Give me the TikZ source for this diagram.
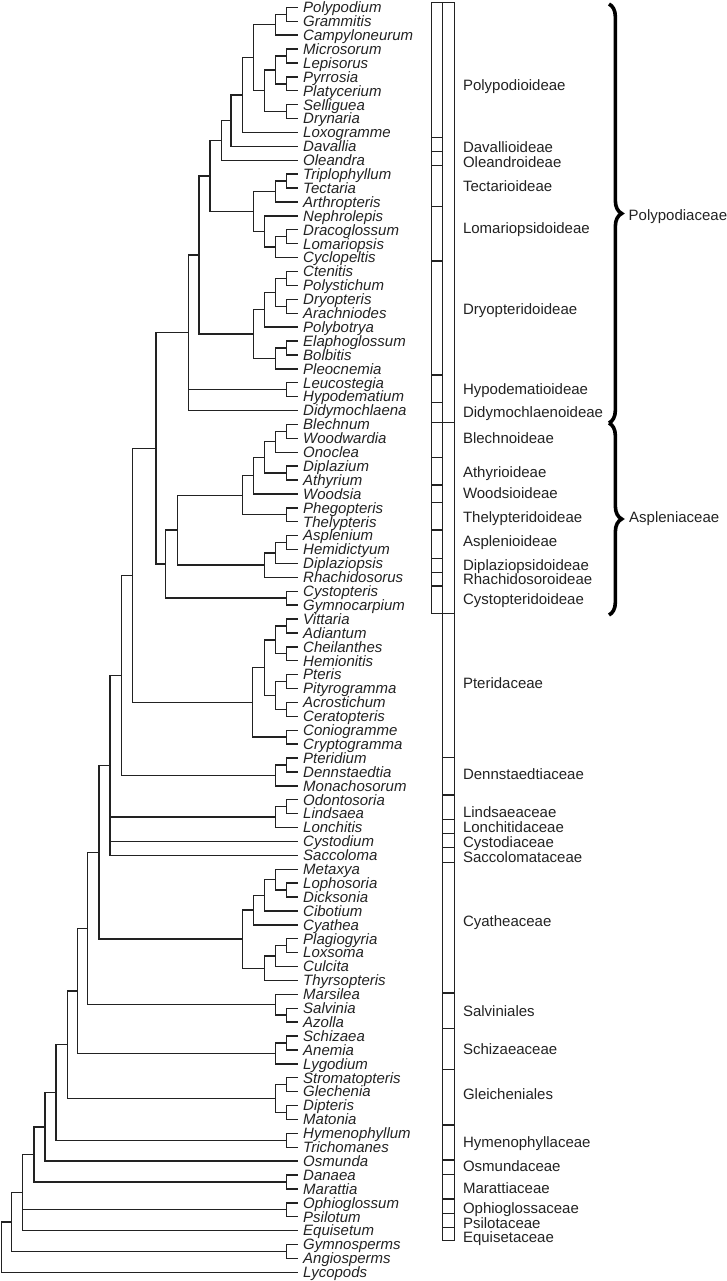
\documentclass[tikz,border=0pt]{standalone}
\usepackage{fontspec}
\setmainfont{Liberation Sans}
\usetikzlibrary{calc,decorations.pathreplacing}
\definecolor{ink}{HTML}{222222}
\tikzset{
  br/.style={draw=ink,line width=1.4pt},
  leaf/.style={anchor=west,inner sep=0pt,text height=10.7pt,text depth=0pt,text=ink,font=\fontsize{15pt}{15pt}\selectfont\itshape},
  lab/.style={anchor=west,inner sep=0pt,text height=10.7pt,text depth=0pt,text=ink,font=\fontsize{15pt}{15pt}\selectfont},
  boxline/.style={draw=ink,line width=1.1pt},
  bigbrace/.style={draw=black,line width=3.6pt,decorate,decoration={brace,amplitude=12.7pt}}
}
\newcommand\cl[4]{%
  \path let \p1=(#3), \p2=(#4) in coordinate (#1) at (#2pt,{0.5*\y1+0.5*\y2});
  \draw[br] (#3) -| (#1) |- (#4);
}
\newcommand\xtra[2]{\draw[br] (#1 |- #2) -- (#2);}
\begin{document}
\begin{tikzpicture}
\useasboundingbox (0,0) rectangle (727pt,-1281pt);
% leaves
\foreach \n [count=\i] in {Polypodium,Grammitis,Campyloneurum,Microsorum,Lepisorus,Pyrrosia,Platycerium,Selliguea,Drynaria,Loxogramme,Davallia,Oleandra,Triplophyllum,Tectaria,Arthropteris,Nephrolepis,Dracoglossum,Lomariopsis,Cyclopeltis,Ctenitis,Polystichum,Dryopteris,Arachniodes,Polybotrya,Elaphoglossum,Bolbitis,Pleocnemia,Leucostegia,Hypodematium,Didymochlaena,Blechnum,Woodwardia,Onoclea,Diplazium,Athyrium,Woodsia,Phegopteris,Thelypteris,Asplenium,Hemidictyum,Diplaziopsis,Rhachidosorus,Cystopteris,Gymnocarpium,Vittaria,Adiantum,Cheilanthes,Hemionitis,Pteris,Pityrogramma,Acrostichum,Ceratopteris,Coniogramme,Cryptogramma,Pteridium,Dennstaedtia,Monachosorum,Odontosoria,Lindsaea,Lonchitis,Cystodium,Saccoloma,Metaxya,Lophosoria,Dicksonia,Cibotium,Cyathea,Plagiogyria,Loxsoma,Culcita,Thyrsopteris,Marsilea,Salvinia,Azolla,Schizaea,Anemia,Lygodium,Stromatopteris,Glechenia,Dipteris,Matonia,Hymenophyllum,Trichomanes,Osmunda,Danaea,Marattia,Ophioglossum,Psilotum,Equisetum,Gymnosperms,Angiosperms,Lycopods}{
  \coordinate (\n) at (297.7pt,{-(7.4+(\i-1)*13.9)*1pt});
  \node[leaf] (t\n) at (303pt,{-(7.4+(\i-1)*13.9)*1pt}) {\n};
}
% Polypodioideae etc.
\cl{c1}{286.7}{Polypodium}{Grammitis}
\cl{c2}{275.7}{c1}{Campyloneurum}
\cl{c3}{286.7}{Microsorum}{Lepisorus}
\cl{c4}{286.7}{Pyrrosia}{Platycerium}
\cl{c5}{275.7}{c3}{c4}
\cl{c6}{286.7}{Selliguea}{Drynaria}
\cl{c7}{264.3}{c5}{c6}
\cl{c8}{253.3}{c2}{c7}
\cl{c9}{242.3}{c8}{Loxogramme}
\cl{c10}{231}{c9}{Davallia}
\cl{c11}{221.7}{c10}{Oleandra}
\cl{c12}{286.7}{Triplophyllum}{Tectaria}
\cl{c13}{275.7}{c12}{Arthropteris}
\cl{c14}{286.7}{Dracoglossum}{Lomariopsis}
\cl{c15}{275.7}{c14}{Cyclopeltis}
\cl{c16}{264.3}{Nephrolepis}{c15}
\cl{c17}{253.3}{c13}{c16}
\cl{c18}{210}{c11}{c17}
\cl{c19}{286.7}{Ctenitis}{Polystichum}
\cl{c20}{286.7}{Dryopteris}{Arachniodes}
\cl{c21}{275.7}{c19}{c20}
\cl{c22}{264.3}{c21}{Polybotrya}
\cl{c23}{286.7}{Elaphoglossum}{Bolbitis}
\cl{c24}{275.7}{c23}{Pleocnemia}
\cl{c25}{253.3}{c22}{c24}
\cl{c26}{199}{c18}{c25}
\cl{c27}{286.7}{Leucostegia}{Hypodematium}
\cl{c28}{188.3}{c26}{Didymochlaena}
\xtra{c28}{c27}
% Aspleniaceae
\cl{c29}{286.7}{Blechnum}{Woodwardia}
\cl{c30}{275.7}{c29}{Onoclea}
\cl{c31}{286.7}{Diplazium}{Athyrium}
\cl{c32}{264.3}{c30}{c31}
\cl{c33}{253.3}{c32}{Woodsia}
\cl{c34}{286.7}{Phegopteris}{Thelypteris}
\cl{c35}{242.3}{c33}{c34}
\cl{c36}{286.7}{Asplenium}{Hemidictyum}
\cl{c37}{275.7}{c36}{Diplaziopsis}
\cl{c38}{264.3}{c37}{Rhachidosorus}
\cl{c39}{177.3}{c35}{c38}
\cl{c40}{286.7}{Cystopteris}{Gymnocarpium}
\cl{c41}{165.7}{c39}{c40}
\cl{c42}{156}{c28}{c41}
% Pteridaceae
\cl{c43}{286.7}{Vittaria}{Adiantum}
\cl{c44}{286.7}{Cheilanthes}{Hemionitis}
\cl{c45}{275.7}{c43}{c44}
\cl{c46}{286.7}{Pteris}{Pityrogramma}
\cl{c47}{286.7}{Acrostichum}{Ceratopteris}
\cl{c48}{275.7}{c46}{c47}
\cl{c49}{264.3}{c45}{c48}
\cl{c50}{286.7}{Coniogramme}{Cryptogramma}
\cl{c51}{252.3}{c49}{c50}
\cl{c52}{132.7}{c42}{c51}
\cl{c53}{286.7}{Pteridium}{Dennstaedtia}
\cl{c54}{275.7}{c53}{Monachosorum}
\cl{c55}{121.7}{c52}{c54}
\cl{c56}{286.7}{Odontosoria}{Lindsaea}
\cl{c57}{275.7}{c56}{Lonchitis}
\cl{c58}{110}{c55}{Saccoloma}
\xtra{c58}{c57}
\xtra{c58}{Cystodium}
% Cyatheaceae
\cl{c59}{286.7}{Lophosoria}{Dicksonia}
\cl{c60}{275.7}{Metaxya}{c59}
\cl{c61}{264.3}{c60}{Cibotium}
\cl{c62}{253.3}{c61}{Cyathea}
\cl{c63}{286.7}{Plagiogyria}{Loxsoma}
\cl{c64}{275.7}{c63}{Culcita}
\cl{c65}{264.3}{c64}{Thyrsopteris}
\cl{c66}{242.3}{c62}{c65}
\cl{c67}{99}{c58}{c66}
\cl{c68}{286.7}{Salvinia}{Azolla}
\cl{c69}{275.7}{Marsilea}{c68}
\cl{c70}{87.7}{c67}{c69}
\cl{c71}{286.7}{Schizaea}{Anemia}
\cl{c72}{275.7}{c71}{Lygodium}
\cl{c73}{77.3}{c70}{c72}
\cl{c74}{286.7}{Stromatopteris}{Glechenia}
\cl{c75}{286.7}{Dipteris}{Matonia}
\cl{c76}{275.7}{c74}{c75}
\cl{c77}{67.7}{c73}{c76}
\cl{c78}{286.7}{Hymenophyllum}{Trichomanes}
\cl{c79}{56}{c77}{c78}
\cl{c80}{45}{c79}{Osmunda}
\cl{c81}{286.7}{Danaea}{Marattia}
\cl{c82}{34}{c80}{c81}
\cl{c83}{286.7}{Ophioglossum}{Psilotum}
\cl{c84}{22.7}{c82}{Equisetum}
\xtra{c84}{c83}
\cl{c85}{286.7}{Gymnosperms}{Angiosperms}
\cl{c86}{11.7}{c84}{c85}
\cl{c87}{1.2}{c86}{Lycopods}
% box columns
\draw[boxline] (431.7pt,-2.3pt) rectangle (442.7pt,-613.3pt);
\draw[boxline] (442.7pt,-2.3pt) rectangle (454.3pt,-1240.7pt);
\foreach \y in {137.7,151.7,165.7,206.7,261,375,402.7,457.7,485,502.7,530,558.3,572.3,586}
  \draw[boxline] (431.7pt,{-\y*1pt}) -- (442.7pt,{-\y*1pt});
\foreach \y in {422.7,613.3}
  \draw[boxline] (431.7pt,{-\y*1pt}) -- (454.3pt,{-\y*1pt});
\foreach \y in {757.7,795,819.3,833.3,847.7,862.7,993,1028.3,1069.3,1125,1160,1174.3,1199,1213.3,1227.7}
  \draw[boxline] (442.7pt,{-\y*1pt}) -- (454.3pt,{-\y*1pt});
% group labels
\foreach \n/\y in {Polypodioideae/85,Davallioideae/146.7,Oleandroideae/161.7,Tectarioideae/186,Lomariopsidoideae/228.3,Dryopteridoideae/309.3,Hypodematioideae/389.3,Didymochlaenoideae/411.7,Blechnoideae/438.3,Athyrioideae/471.7,Woodsioideae/492.7,Thelypteridoideae/516.7,Asplenioideae/540.7,Diplaziopsidoideae/565,Rhachidosoroideae/579.3,Cystopteridoideae/599.3,Pteridaceae/683.3,Dennstaedtiaceae/774,Lindsaeaceae/811.7,Lonchitidaceae/826.7,Cystodiaceae/841.7,Saccolomataceae/856.7,Cyatheaceae/920.7,Salviniales/1011,Schizaeaceae/1049.3,Gleicheniales/1094,Hymenophyllaceae/1141.7,Osmundaceae/1166,Marattiaceae/1188.3,Ophioglossaceae/1208.3,Psilotaceae/1222.7,Equisetaceae/1237.3}
  \node[lab] (g\n) at (462.8pt,{-\y*1pt}) {\n};
% braces
\coordinate (pa) at (609pt,-4pt);
\coordinate (pb) at (609pt,-423pt);
\coordinate (pc) at (609pt,-615pt);
\draw[bigbrace] (pa) -- (pb);
\draw[bigbrace] (pb) -- (pc);
\node[lab] (fPoly) at (628.5pt,-215pt) {Polypodiaceae};
\node[lab] (fAspl) at (629pt,-517.3pt) {Aspleniaceae};
\end{tikzpicture}
\end{document}
